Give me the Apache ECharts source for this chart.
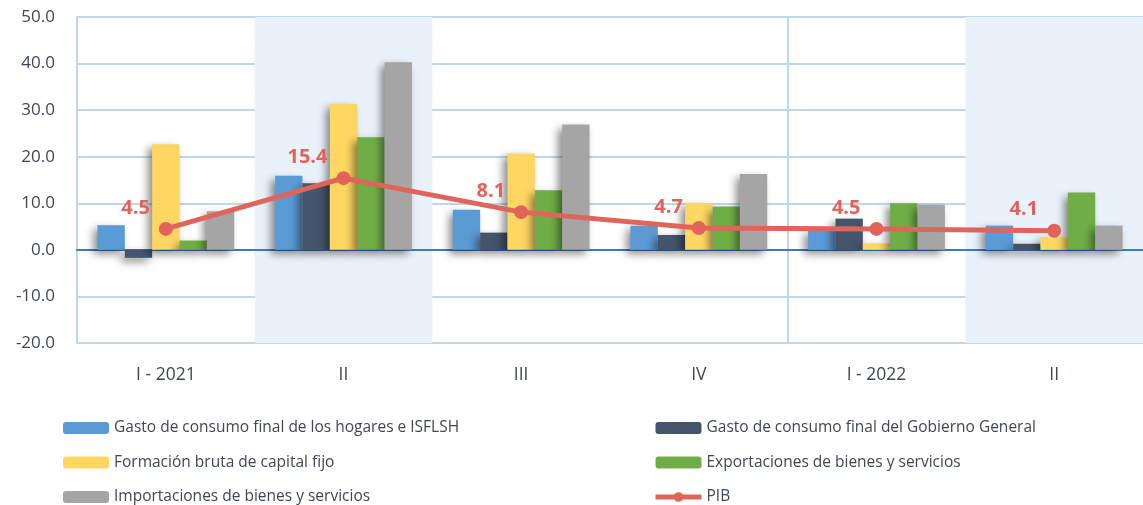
<!DOCTYPE html>
<html>
<head>
    <meta charset="utf-8">
    <script src="https://cdn.jsdelivr.net/npm/echarts@6/dist/echarts.min.js"></script>
    <style>
        html, body { margin: 0; padding: 0; background: #fff; }
        #container { width: 1143px; height: 505px; }
    </style>
</head>
<body>
<div id="container"></div>
<script type="text/javascript">
    // datos
    var trimestres = ['I - 2021', 'II', 'III', 'IV', 'I - 2022', 'II'];
    var hogares = [5.3, 15.9, 8.6, 5.2, 4.3, 5.2];
    var gobierno = [-1.7, 14.3, 3.7, 3.2, 6.7, 1.3];
    var capitalFijo = [22.7, 31.3, 20.7, 10.0, 1.4, 2.7];
    var exportaciones = [2.0, 24.2, 12.8, 9.3, 10.0, 12.3];
    var importaciones = [8.3, 40.3, 26.9, 16.3, 9.7, 5.2];
    var pib = [4.5, 15.4, 8.1, 4.7, 4.5, 4.1];
    var ticksY = [-20, -10, 0, 10, 20, 30, 40, 50];

    var textColor = '#3f4756';
    var gridColor = '#bdd7ee';
    var fuente = 'Open Sans';
    var rojo = '#e0645a';

    function barra(nombre, datos, color) {
        return {
            name: nombre,
            type: 'bar',
            data: datos,
            barGap: 0,
            barCategoryGap: '23%',
            itemStyle: {
                color: color,
                shadowBlur: 8,
                shadowColor: 'rgba(0,0,0,0.45)',
                shadowOffsetX: -4,
                shadowOffsetY: 4
            }
        };
    }

    function leyenda(izq, nombres) {
        return {
            orient: 'vertical',
            left: izq,
            top: 413,
            height: 110,
            itemWidth: 46,
            itemHeight: 12,
            itemGap: 14.5,
            textStyle: { fontSize: 15.5, lineHeight: 20, color: textColor, fontFamily: fuente },
            data: nombres
        };
    }

    var myChart = echarts.init(document.getElementById('container'));
    var option = {
        animation: false,
        textStyle: { fontFamily: fuente },
        grid: { left: 77, top: 17, width: 1072, height: 326 },
        legend: [
            leyenda(58, ['Gasto de consumo final de los hogares e ISFLSH', 'Formación bruta de capital fijo', 'Importaciones de bienes y servicios']),
            leyenda(648, ['Gasto de consumo final del Gobierno General', 'Exportaciones de bienes y servicios',
                { name: 'PIB', lineStyle: { width: 5 } }])
        ],
        xAxis: {
            type: 'category',
            data: trimestres,
            axisTick: { show: false },
            axisLine: { onZero: true, lineStyle: { color: '#3a7cc0', width: 2 } },
            axisLabel: {
                fontSize: 17.5,
                color: textColor,
                fontFamily: fuente,
                margin: 23
            },
            splitLine: {
                show: true,
                lineStyle: {
                    color: ['rgba(0,0,0,0)', 'rgba(0,0,0,0)', 'rgba(0,0,0,0)', 'rgba(0,0,0,0)', gridColor, 'rgba(0,0,0,0)', 'rgba(0,0,0,0)'],
                    width: 2
                }
            },
            splitArea: {
                show: true,
                areaStyle: {
                    color: ['rgba(0,0,0,0)', '#e9f1fa', 'rgba(0,0,0,0)', 'rgba(0,0,0,0)', 'rgba(0,0,0,0)', '#e9f1fa']
                }
            }
        },
        yAxis: {
            type: 'value',
            min: ticksY[0],
            max: ticksY[ticksY.length - 1],
            interval: 10,
            axisLine: { show: true, lineStyle: { color: gridColor, width: 2 } },
            axisTick: { show: false },
            axisLabel: {
                fontSize: 17,
                color: textColor,
                fontFamily: fuente,
                margin: 22,
                formatter: function (v) { return v.toFixed(1); }
            },
            splitLine: { lineStyle: { color: gridColor, width: 2 } }
        },
        series: [
            barra('Gasto de consumo final de los hogares e ISFLSH', hogares, '#5b9bd5'),
            barra('Gasto de consumo final del Gobierno General', gobierno, '#44546a'),
            barra('Formación bruta de capital fijo', capitalFijo, '#fed762'),
            barra('Exportaciones de bienes y servicios', exportaciones, '#70ad47'),
            barra('Importaciones de bienes y servicios', importaciones, '#a5a5a5'),
            {
                name: 'PIB',
                type: 'line',
                data: pib,
                z: 5,
                symbol: 'circle',
                symbolSize: 14,
                lineStyle: { color: rojo, width: 5 },
                itemStyle: { color: rojo },
                label: {
                    show: true,
                    position: 'left',
                    distance: 9,
                    offset: [0, -21],
                    fontSize: 20,
                    fontWeight: 'bold',
                    fontFamily: fuente,
                    color: rojo,
                    formatter: function (p) { return p.value.toFixed(1); }
                }
            }
        ]
    };
    myChart.setOption(option, true);
</script>
</body>
</html>
